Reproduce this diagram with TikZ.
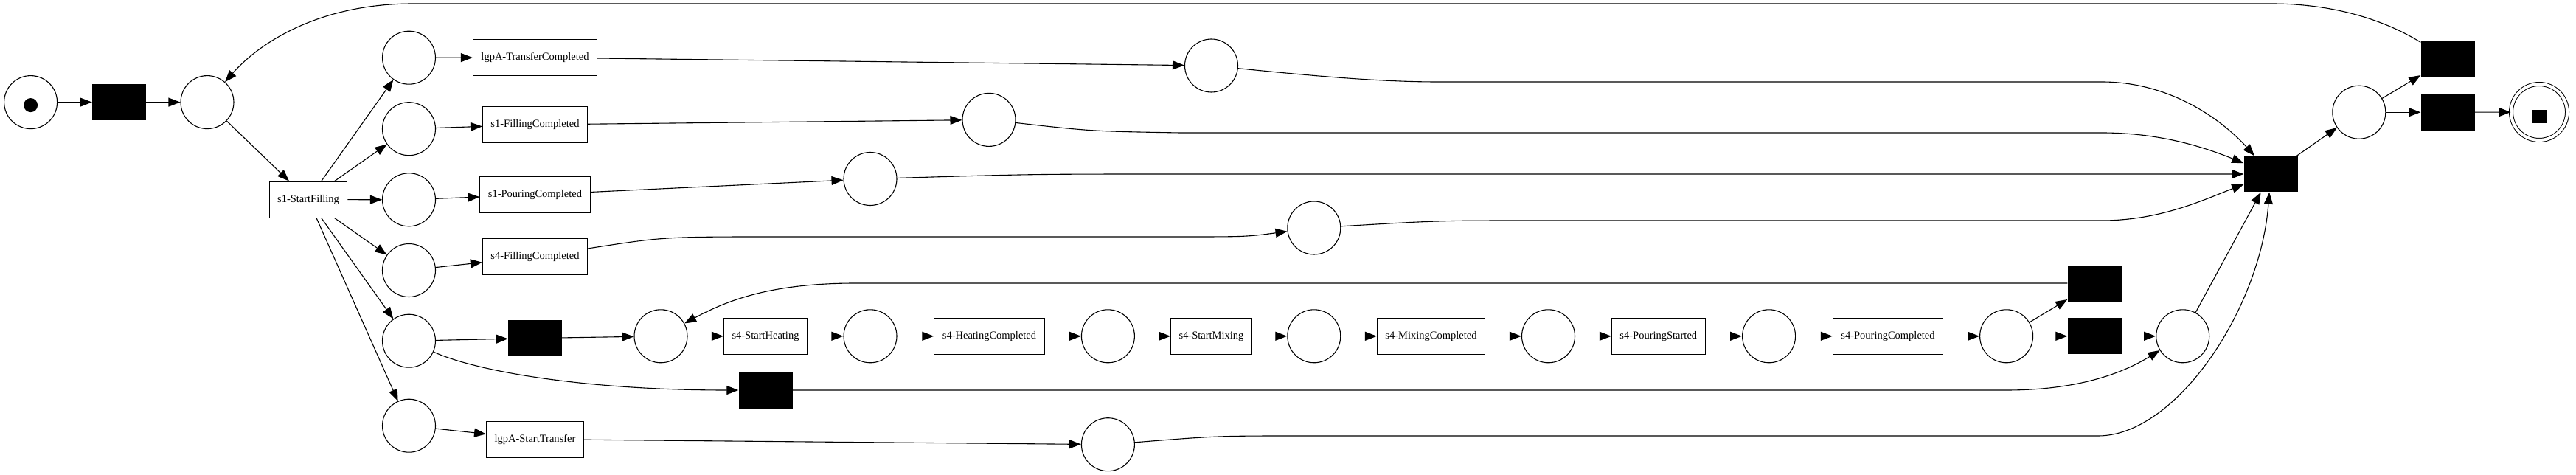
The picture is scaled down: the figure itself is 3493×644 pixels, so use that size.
\documentclass[tikz,border=0pt]{standalone}
\usepackage{fontspec}
\setmainfont{Liberation Serif}
\usetikzlibrary{arrows.meta}
\newcommand{\flow}[2]{\draw[arc] (#1) -- (#2);}

\begin{document}
\begin{tikzpicture}[x = 1pt, y = -1pt,
  place/.style = {circle, draw, line width = 1.1pt, minimum size = 72pt, inner sep = 0pt},
  task/.style = {rectangle, draw, line width = 1.1pt, minimum height = 49pt, inner xsep = 11pt, font = \fontsize{14.5}{16}\selectfont},
  silent/.style = {rectangle, fill = black, minimum width = 73pt, minimum height = 49pt, inner sep = 0pt},
  arc/.style = {-{Triangle[length = 16pt, width = 12pt]}, line width = 1.1pt}]
\useasboundingbox (0,0) rectangle (3493,644);
% start and split
\node[place] (start) at (41.6,138.6) {};
\fill ([yshift = -4pt]start.center) circle[radius = 9.5pt];
\node[silent] (t0) at (161.5,138.6) {};
\node[place] (p1) at (281,138.6) {};
\node[task] (fill1) at (418,270.6) {s1-StartFilling};
\node[place] (pa) at (554.5,78.2) {};
\node[place] (pb) at (554.5,174.7) {};
\node[place] (pc) at (554.5,270.8) {};
\node[place] (pd) at (554.5,366.5) {};
\node[place] (pe) at (554.5,462.2) {};
\node[place] (pf) at (554.5,577.2) {};
\node[task] (trdone) at (725.5,78) {lgpA-TransferCompleted};
\node[task] (filldone1) at (725.5,169) {s1-FillingCompleted};
\node[task] (pourdone1) at (725.5,264) {s1-PouringCompleted};
\node[task] (filldone4) at (725.5,348) {s4-FillingCompleted};
\node[silent] (t1) at (725.5,458.5) {};
\node[task] (trstart) at (725.5,595.6) {lgpA-StartTransfer};
\node[place] (pg) at (1642.5,89) {};
\node[place] (ph) at (1341,162.4) {};
\node[place] (pi) at (1180,242.5) {};
\node[place] (pj) at (1781.8,309) {};
\node[place] (po) at (1502.4,602.7) {};
% s4 row
\node[place] (pk) at (896,455.8) {};
\node[task] (heat) at (1038,455.8) {s4-StartHeating};
\node[place] (q1) at (1180,455.8) {};
\node[task] (heatdone) at (1341.5,455.8) {s4-HeatingCompleted};
\node[place] (q2) at (1502.4,455.8) {};
\node[task] (mix) at (1642.5,455.8) {s4-StartMixing};
\node[place] (q3) at (1781.8,455.8) {};
\node[task] (mixdone) at (1940.5,455.8) {s4-MixingCompleted};
\node[place] (q4) at (2099.5,455.8) {};
\node[task] (pour) at (2248.8,455.8) {s4-PouringStarted};
\node[place] (q5) at (2398.6,455.8) {};
\node[task] (pourdone4) at (2560,455.8) {s4-PouringCompleted};
\node[place] (q6) at (2720.6,455.8) {};
\node[silent] (t2) at (1038,529) {};
\node[silent] (ta) at (2840,384) {};
\node[silent] (tb) at (2840,455.8) {};
\node[place] (pm) at (2959.7,455.8) {};
% join and end
\node[silent] (tjoin) at (3079,236) {};
\node[place] (pn) at (3198.8,152.2) {};
\node[silent] (tc) at (3319,80) {};
\node[silent] (td) at (3319,152.2) {};
\node[place, minimum size = 76pt, double, double distance = 4pt, line width = 1pt] (end) at (3443,152) {};
\node[fill = black, minimum width = 20pt, minimum height = 18pt, inner sep = 0pt] (endtok) at ([yshift = -6pt]end.center) {};

\flow{start}{t0} \flow{t0}{p1} \flow{p1}{fill1}
\flow{fill1}{pa} \flow{fill1}{pb} \flow{fill1}{pc}
\flow{fill1}{pd} \flow{fill1}{pe} \flow{fill1}{pf}
\flow{pa}{trdone} \flow{pb}{filldone1} \flow{pc}{pourdone1}
\flow{pd}{filldone4} \flow{pe}{t1} \flow{pf}{trstart}
\flow{trdone}{pg} \flow{filldone1}{ph} \flow{pourdone1}{pi} \flow{trstart}{po}
\draw[arc] (filldone4) .. controls (900,321) .. (1050,321) -- (1600,321) .. controls (1690,321) .. (pj);
\flow{t1}{pk} \flow{pk}{heat} \flow{heat}{q1} \flow{q1}{heatdone}
\flow{heatdone}{q2} \flow{q2}{mix} \flow{mix}{q3} \flow{q3}{mixdone}
\flow{mixdone}{q4} \flow{q4}{pour} \flow{pour}{q5} \flow{q5}{pourdone4}
\flow{pourdone4}{q6} \flow{q6}{ta} \flow{q6}{tb} \flow{tb}{pm}
\draw[arc] (ta) -- (1160,384) .. controls (1050,384) and (990,405) .. (pk);
\draw[arc] (pe) .. controls (650,505) and (800,529) .. (t2);
\draw[arc] (t2) -- (2720,529) .. controls (2820,529) and (2880,505) .. (pm);
% into the join
\draw[arc] (pg) .. controls (1800,105) and (1880,111) .. (1950,111) -- (2850,111) .. controls (2950,111) and (3020,170) .. (tjoin);
\draw[arc] (ph) .. controls (1480,178) .. (1600,180) -- (2850,180) .. controls (2930,180) and (2990,200) .. (tjoin);
\draw[arc] (pi) .. controls (1400,236) .. (1600,236) -- (tjoin);
\draw[arc] (pj) .. controls (1950,299) .. (2080,299) -- (2850,299) .. controls (2930,299) and (2990,270) .. (tjoin);
\draw[arc] (po) .. controls (1650,591) .. (1760,591) -- (2845,591) .. controls (2950,591) and (3065,420) .. (tjoin);
\flow{pm}{tjoin}
\flow{tjoin}{pn} \flow{pn}{tc} \flow{pn}{td} \flow{td}{end}
\draw[arc] (tc) .. controls (3230,25) and (3160,5) .. (3080,5) -- (560,5) .. controls (430,5) and (350,60) .. (p1);
\end{tikzpicture}
\end{document}
